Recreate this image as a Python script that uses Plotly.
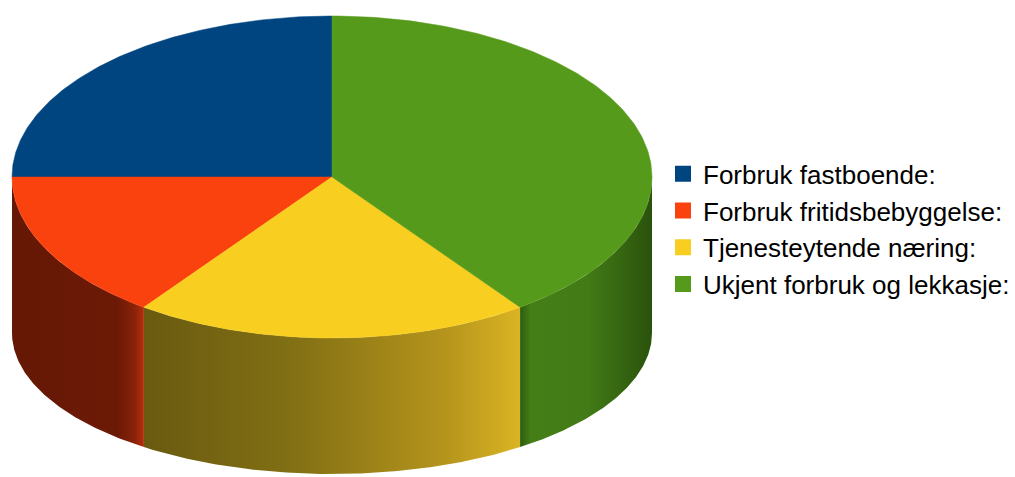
import numpy as np
import plotly.graph_objects as go

# ---- data ----
labels = ["Forbruk fastboende:", "Forbruk fritidsbebyggelse:",
          "Tjenesteytende næring:", "Ukjent forbruk og lekkasje:"]
values = [25, 15, 20, 40]
top_colors = ["#004480", "#fa420f", "#f8ce20", "#569a1b"]
side_scales = [
    [[0, "#00203f"], [1, "#003060"]],
    [[0, "#651805"], [0.8, "#6c1a06"], [0.93, "#8a2208"], [1, "#b52d0c"]],
    [[0, "#695a10"], [0.4, "#827014"], [0.8, "#b5941c"], [1, "#dab423"]],
    [[0, "#2e5c0f"], [0.08, "#447e17"], [0.5, "#437c17"], [1, "#2a520c"]],
]

# ---- geometry of the 3D pie (pixel space) ----
CX, CY_TOP, RX, RY_TOP = 332, 177, 320, 161
CY_BOT, RY_BOT = 333, 141

fig = go.Figure()

total = sum(values)
start = 90.0
angles = []
for v in values:
    sweep = 360.0 * v / total
    angles.append((start, start + sweep))
    start += sweep


def top_pt(t):
    r = np.radians(t)
    return CX + RX * np.cos(r), CY_TOP - RY_TOP * np.sin(r)


def bot_pt(t):
    r = np.radians(t)
    return CX + RX * np.cos(r), CY_BOT - RY_BOT * np.sin(r)


# side faces (front half only: angles 180..360)
for i, (a, b) in enumerate(angles):
    for off in (0, 360, -360):
        lo = max(a + off, 180)
        hi = min(b + off, 360)
        if hi > lo:
            ts = np.linspace(lo, hi, 120)
            xt, yt = top_pt(ts)
            xb, yb = bot_pt(ts[::-1])
            xs = np.concatenate([xt, xb, xt[:1]])
            ys = np.concatenate([yt, yb, yt[:1]])
            fig.add_trace(go.Scatter(
                x=xs, y=ys, mode="lines", fill="toself",
                line=dict(width=0), showlegend=False, hoverinfo="skip",
                fillgradient=dict(type="horizontal", colorscale=side_scales[i]),
            ))

# top faces
for i, (a, b) in enumerate(angles):
    ts = np.linspace(a, b, 200)
    xt, yt = top_pt(ts)
    xs = np.concatenate([[CX], xt, [CX]])
    ys = np.concatenate([[CY_TOP], yt, [CY_TOP]])
    fig.add_trace(go.Scatter(
        x=xs, y=ys, mode="lines", fill="toself", fillcolor=top_colors[i],
        line=dict(width=0.5, color=top_colors[i]), showlegend=False,
        hoverinfo="skip",
    ))

# legend entries
for lab, col in zip(labels, top_colors):
    fig.add_trace(go.Scatter(
        x=[None], y=[None], mode="markers", name=lab,
        marker=dict(symbol="square", size=18, color=col),
    ))

fig.update_layout(
    width=1015, height=477,
    margin=dict(l=0, r=0, t=0, b=0),
    paper_bgcolor="white", plot_bgcolor="white",
    xaxis=dict(range=[0, 1015], visible=False, fixedrange=True),
    yaxis=dict(range=[477, 0], visible=False, fixedrange=True),
    showlegend=True,
    legend=dict(
        x=1.0, y=0.685, xanchor="right", yanchor="top",
        font=dict(family="Liberation Sans, Arial, sans-serif", size=26, color="#000000"),
        bgcolor="rgba(0,0,0,0)", tracegroupgap=0, itemsizing="trace",
    ),
)

fig.write_html("out.html")
